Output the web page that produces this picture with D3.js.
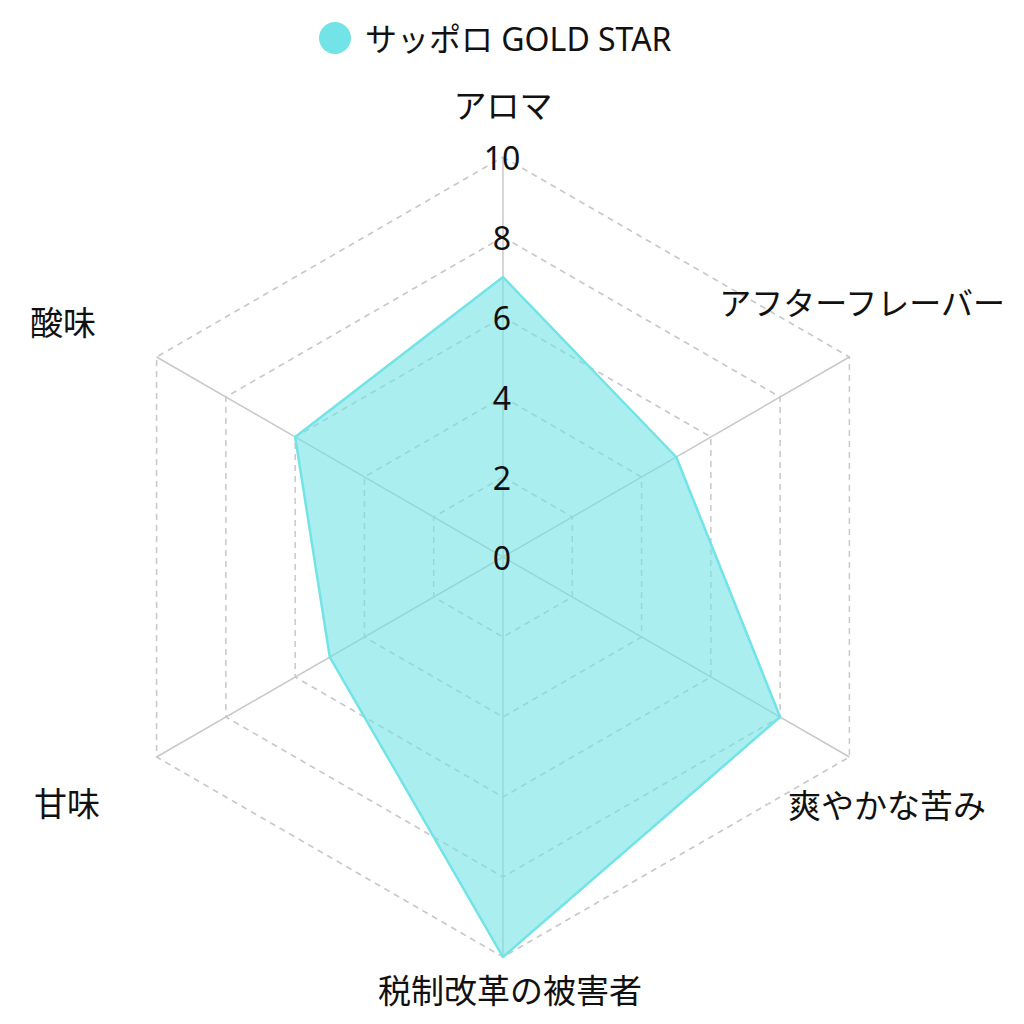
<!DOCTYPE html>
<html><head><meta charset="utf-8">
<script src="https://cdn.jsdelivr.net/npm/d3@7/dist/d3.min.js"></script>
<style>
html,body{margin:0;padding:0;background:#fff;}
svg{display:block;}
text{font-family:"Noto Sans","Noto Sans CJK JP",sans-serif;fill:#111;}
</style></head>
<body>
<svg id="chart" width="1024" height="1024"></svg>
<script>
const categories = ["アロマ","アフターフレーバー","爽やかな苦み","税制改革の被害者","甘味","酸味"];
const seriesName = "サッポロ GOLD STAR";
const seriesValues = [7, 5, 8, 10, 5, 6];
const tickValues = [0, 2, 4, 6, 8, 10];

const W = 1024, H = 1024;
const cx = 503, cy = 557, R = 400;
const stroke = "#72e3e6", fill = "rgba(114,227,230,0.6)";
const svg = d3.select("#chart");

const r = d3.scaleLinear().domain([0, 10]).range([0, R]);
const ang = d3.scalePoint().domain(categories).range([0, 2*Math.PI*(categories.length-1)/categories.length]);
const pt = (c, v) => [cx + r(v)*Math.sin(ang(c)), cy - r(v)*Math.cos(ang(c))];

const g = svg.append("g");

// rings (dashed)
tickValues.filter(t => t > 0).forEach(t => {
  g.append("path")
    .attr("d", d3.line()(categories.map(c => pt(c, t))) + "Z")
    .attr("fill", "none").attr("stroke", "#c8c8c8").attr("stroke-width", 1.5)
    .attr("stroke-dasharray", "6,5");
});
// angle lines
categories.forEach(c => {
  const [x, y] = pt(c, 10);
  g.append("line").attr("x1", cx).attr("y1", cy).attr("x2", x).attr("y2", y)
    .attr("stroke", "#c8c8c8").attr("stroke-width", 1.5);
});

// data polygon
g.append("path")
  .attr("d", d3.line()(categories.map((c, i) => pt(c, seriesValues[i]))) + "Z")
  .attr("fill", fill).attr("stroke", stroke).attr("stroke-width", 2.5)
  .attr("stroke-linejoin", "round");

// tick labels
g.selectAll(".tick").data(tickValues).join("text")
  .attr("x", cx - 1).attr("y", d => cy - r(d))
  .attr("text-anchor", "middle").attr("dominant-baseline", "central")
  .attr("font-size", 32).text(d => d);

// point labels
const labelOffsets = [[0,-12],[-22,-35],[3,28],[7,-7],[-55,26],[-59,-15]];
categories.forEach((c, i) => {
  const [x, y] = pt(c, 11);
  g.append("text")
    .attr("x", x + labelOffsets[i][0]).attr("y", y + labelOffsets[i][1])
    .attr("text-anchor", "middle").attr("dominant-baseline", "central")
    .attr("font-size", i === 1 ? 32 : 33).text(c);
});

// legend
const lg = svg.append("g");
lg.append("circle").attr("cx", 335).attr("cy", 38).attr("r", 16).attr("fill", stroke);
lg.append("text").attr("x", 365).attr("y", 38).attr("dominant-baseline", "central")
  .attr("font-size", 32).text(seriesName);
</script>
</body></html>
